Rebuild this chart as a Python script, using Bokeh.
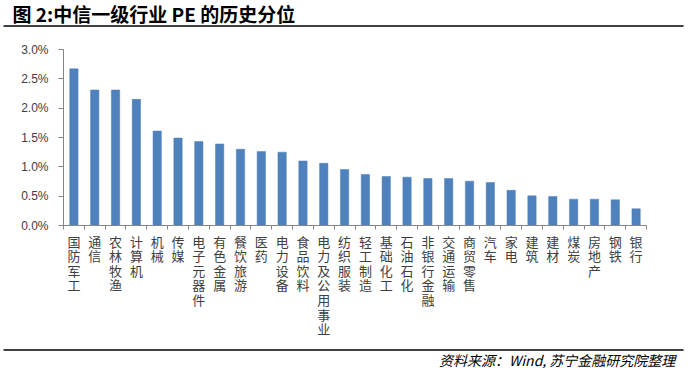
from bokeh.plotting import figure
from bokeh.models import FixedTicker, NumeralTickFormatter, Range1d
from bokeh.core.properties import value
from bokeh.embed import file_html
from bokeh.resources import INLINE

categories = ["国防军工", "通信", "农林牧渔", "计算机", "机械", "传媒", "电子元器件", "有色金属",
              "餐饮旅游", "医药", "电力设备", "食品饮料", "电力及公用事业", "纺织服装", "轻工制造",
              "基础化工", "石油石化", "非银行金融", "交通运输", "商贸零售", "汽车", "家电", "建筑",
              "建材", "煤炭", "房地产", "钢铁", "银行"]
pe_percentile = [2.67, 2.31, 2.31, 2.15, 1.61, 1.49, 1.43, 1.39, 1.30, 1.26, 1.25, 1.10, 1.06,
                 0.955, 0.87, 0.835, 0.824, 0.80, 0.80, 0.756, 0.733, 0.60, 0.506, 0.494,
                 0.449, 0.449, 0.438, 0.284]  # percent
y_ticks = [0.0, 0.5, 1.0, 1.5, 2.0, 2.5, 3.0]  # percent

title_text = "图 2:中信一级行业 PE 的历史分位"
source_text = "资料来源：Wind,  苏宁金融研究院整理"

W = 686
n = len(categories)
xs = [i + 0.5 for i in range(n)]
vals = [v / 100 for v in pe_percentile]
xr = Range1d(0, n)

cjk = "Noto Sans CJK SC"
axis_color = "#868686"
label_color = "#404040"


def strip(h):
    f = figure(width=W, height=h, x_range=Range1d(0, W), y_range=Range1d(h, 0),
               x_axis_location=None, y_axis_location=None,
               min_border_left=0, min_border_right=0, min_border_top=0, min_border_bottom=0,
               output_backend="svg", toolbar_location=None, tools="")
    f.outline_line_color = None
    f.xgrid.visible = False
    f.ygrid.visible = False
    return f


# header
hdr = strip(28)
hdr.text(x=[12], y=[13], text=[title_text], text_font=value(cjk), text_font_size="19px",
         text_font_style="bold", text_color="#000000", text_baseline="middle", text_align="left")
hdr.line(x=[3, 683], y=[25.5, 25.5], line_color="#000000", line_width=1.5)

# main chart
p = figure(frame_width=583, frame_height=176, x_range=xr,
           y_range=Range1d(y_ticks[0] / 100, y_ticks[-1] / 100),
           min_border_left=63, min_border_right=W - 63 - 583, min_border_top=21, min_border_bottom=7,
           output_backend="svg", toolbar_location=None, tools="")
p.outline_line_color = None
p.xgrid.grid_line_color = None
p.ygrid.grid_line_color = None
p.vbar(x=xs, top=vals, width=0.4, fill_color="#4F81BD", line_color="#4A7EBB", line_width=0.5)

yax = p.yaxis[0]
yax.ticker = FixedTicker(ticks=[t / 100 for t in y_ticks], minor_ticks=[])
yax.formatter = NumeralTickFormatter(format="0.0%")
yax.axis_line_color = axis_color
yax.major_tick_line_color = axis_color
yax.major_tick_out = 5
yax.major_tick_in = 0
yax.minor_tick_line_color = None
yax.major_label_text_font = "Liberation Sans"
yax.major_label_text_font_size = "12px"
yax.major_label_text_color = label_color
yax.major_label_standoff = 10

xax = p.xaxis[0]
xax.ticker = FixedTicker(ticks=[], minor_ticks=list(range(n + 1)))
xax.axis_line_color = axis_color
xax.major_tick_line_color = None
xax.minor_tick_line_color = axis_color
xax.minor_tick_out = 4
xax.minor_tick_in = 0
xax.major_label_text_font_size = "0px"
xax.major_label_standoff = 0

# category labels (vertical, stacked characters)
LH = 112
lab = figure(frame_width=583, frame_height=LH, x_range=xr, y_range=Range1d(LH, 0),
             x_axis_location=None, y_axis_location=None,
             min_border_left=63, min_border_right=W - 63 - 583, min_border_top=0, min_border_bottom=0,
             output_backend="svg", toolbar_location=None, tools="")
lab.outline_line_color = None
lab.xgrid.visible = False
lab.ygrid.visible = False
lab.text(x=xs, y=[-1] * n, text=["\n".join(c) for c in categories], text_font=value(cjk),
         text_font_size="13px", text_color=label_color, text_align="center",
         text_baseline="top", text_line_height=0.77)

# footer
ftr = strip(24)
ftr.line(x=[3, 683], y=[5.5, 5.5], line_color="#000000", line_width=1.5)
ftr.text(x=[678], y=[15], text=[source_text], text_font=value(cjk), text_font_size="14px",
         text_font_style="italic", text_color="#000000", text_baseline="middle", text_align="right")

open("out.html", "w").write(file_html([hdr, p, lab, ftr], INLINE))
